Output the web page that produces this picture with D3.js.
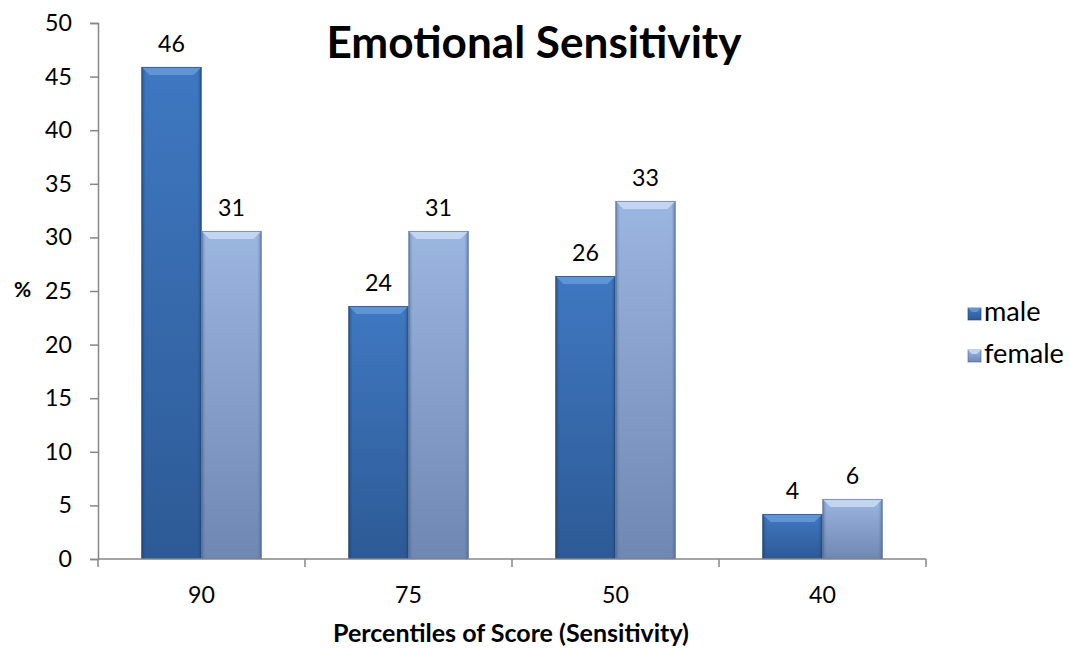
<!DOCTYPE html>
<html>
<head>
  <meta charset="utf-8">
  <title>Emotional Sensitivity</title>
  <style>
    body { margin: 0; background: #fff; }
    svg text { font-family: Lato, "Open Sans", sans-serif; fill: #000; }
    .tick_label { font-size: 24px; }
    .val_label { font-size: 24px; text-anchor: middle; }
    .title { font-size: 44px; font-weight: bold; text-anchor: middle; }
    .axis_title { font-size: 21px; font-weight: bold; }
    .legend_label { font-size: 24px; }
  </style>
</head>
<body>
  <svg id="canvas"></svg>
  <script src="https://cdn.jsdelivr.net/npm/d3@7"></script>
  <script>
    const categories = ["90", "75", "50", "40"];
    const series = ["male", "female"];
    const male = [45.9, 23.6, 26.4, 4.2];
    const female = [30.6, 30.6, 33.4, 5.6];
    const shown_male = [46, 24, 26, 4];
    const shown_female = [31, 31, 33, 6];
    const y_ticks = [0, 5, 10, 15, 20, 25, 30, 35, 40, 45, 50];

    const W = 1070, H = 648;
    const dims = { left: 98, right: 926, top: 23, bottom: 559 };

    const colors = {
      male: { top: "#3f78c1", bottom: "#2d5a96", bevel: "#5f95d6", edge: "#1f406d" },
      female: { top: "#9bb6e1", bottom: "#6f87b3", bevel: "#c2d5f1", edge: "#4f6690" }
    };

    const svg = d3.select("#canvas").attr("width", W).attr("height", H);
    const defs = svg.append("defs");
    series.forEach(s => {
      const g = defs.append("linearGradient").attr("id", "grad_" + s)
        .attr("x1", 0).attr("y1", 0).attr("x2", 0).attr("y2", 1);
      g.append("stop").attr("offset", "0%").attr("stop-color", colors[s].top);
      g.append("stop").attr("offset", "100%").attr("stop-color", colors[s].bottom);
      const e = defs.append("linearGradient").attr("id", "edge_" + s)
        .attr("x1", 0).attr("y1", 0).attr("x2", 1).attr("y2", 0);
      e.append("stop").attr("offset", "0%").attr("stop-color", colors[s].edge).attr("stop-opacity", 0.55);
      e.append("stop").attr("offset", "7%").attr("stop-color", colors[s].edge).attr("stop-opacity", 0);
      e.append("stop").attr("offset", "93%").attr("stop-color", colors[s].edge).attr("stop-opacity", 0);
      e.append("stop").attr("offset", "100%").attr("stop-color", colors[s].edge).attr("stop-opacity", 0.55);
    });

    // scale a text's font so its width matches what the picture shows
    const fit = (sel, target) => {
      const w = sel.node().getBBox().width;
      const fs = parseFloat(getComputedStyle(sel.node()).fontSize);
      return fs * target / w;
    };

    const x = d3.scaleBand().domain(categories).range([dims.left, dims.right])
      .paddingInner(0.42).paddingOuter(0.21);
    const xs = d3.scaleBand().domain(series).range([0, x.bandwidth()]);
    const y = d3.scaleLinear().domain([0, 50]).range([dims.bottom, dims.top]);

    // measure label size on a probe
    const probe = svg.append("text").attr("class", "tick_label").text("90");
    const label_fs = fit(probe, 27);
    probe.remove();

    // axes
    const axis_color = "#868686";
    const yAxis = svg.append("g").attr("transform", "translate(" + dims.left + ",0)")
      .call(d3.axisLeft(y).tickValues(y_ticks).tickSize(8).tickPadding(18));
    yAxis.attr("font-size", null).attr("font-family", null);
    yAxis.select(".domain").attr("stroke", axis_color).attr("stroke-width", 1.5);
    yAxis.selectAll(".tick line").attr("stroke", axis_color).attr("stroke-width", 1.5);
    yAxis.selectAll(".tick text").attr("class", "tick_label").attr("fill", "#000")
      .style("font-size", label_fs + "px");

    const bars = [];
    categories.forEach((c, i) => {
      bars.push({ cat: c, s: "male", v: male[i], label: shown_male[i] });
      bars.push({ cat: c, s: "female", v: female[i], label: shown_female[i] });
    });

    const bar_g = svg.append("g");
    const b = bar_g.selectAll(".bar").data(bars).enter().append("g").attr("class", "bar");
    b.append("rect")
      .attr("x", d => x(d.cat) + xs(d.s))
      .attr("y", d => y(d.v))
      .attr("width", xs.bandwidth())
      .attr("height", d => y(0) - y(d.v))
      .attr("fill", d => "url(#grad_" + d.s + ")");
    b.append("rect")
      .attr("x", d => x(d.cat) + xs(d.s))
      .attr("y", d => y(d.v))
      .attr("width", xs.bandwidth())
      .attr("height", d => y(0) - y(d.v))
      .attr("fill", d => "url(#edge_" + d.s + ")");
    // top bevel
    const bev = 8;
    b.append("path")
      .attr("d", d => {
        const x0 = x(d.cat) + xs(d.s), x1 = x0 + xs.bandwidth(), y0 = y(d.v);
        return "M" + x0 + "," + y0 + "L" + x1 + "," + y0 + "L" + (x1 - bev) + "," + (y0 + bev) +
          "L" + (x0 + bev) + "," + (y0 + bev) + "Z";
      })
      .attr("fill", d => colors[d.s].bevel);
    b.append("rect")
      .attr("x", d => x(d.cat) + xs(d.s) + 0.5)
      .attr("y", d => y(d.v) + 0.5)
      .attr("width", xs.bandwidth() - 1)
      .attr("height", d => y(0) - y(d.v) - 1)
      .attr("fill", "none")
      .attr("stroke", d => colors[d.s].edge)
      .attr("stroke-opacity", 0.6);
    b.append("text")
      .attr("class", "val_label")
      .style("font-size", label_fs + "px")
      .attr("x", d => x(d.cat) + xs(d.s) + xs.bandwidth() / 2)
      .attr("y", d => y(d.v) - 15)
      .text(d => d.label);

    // x axis
    const xl = svg.append("g");
    xl.append("line").attr("x1", dims.left).attr("x2", dims.right)
      .attr("y1", dims.bottom).attr("y2", dims.bottom)
      .attr("stroke", axis_color).attr("stroke-width", 1.5);
    const bounds = categories.map(c => x(c) - x.step() * x.paddingInner() / 2);
    bounds.push(dims.right);
    xl.selectAll(".xtick").data(bounds).enter().append("line")
      .attr("x1", d => d).attr("x2", d => d)
      .attr("y1", dims.bottom).attr("y2", dims.bottom + 8)
      .attr("stroke", axis_color).attr("stroke-width", 1.5);
    xl.selectAll(".xlab").data(categories).enter().append("text")
      .attr("class", "tick_label")
      .style("font-size", label_fs + "px")
      .attr("text-anchor", "middle")
      .attr("x", d => x(d) + x.bandwidth() / 2)
      .attr("y", dims.bottom + 44)
      .text(d => d);

    // titles
    const title = svg.append("text").attr("class", "title").attr("x", 534).attr("y", 58).text("Emotional Sensitivity");
    title.style("font-size", fit(title, 416) + "px");
    const xt = svg.append("text").attr("class", "axis_title").attr("text-anchor", "middle")
      .attr("x", 511).attr("y", 642).text("Percentiles of Score (Sensitivity)");
    xt.style("font-size", fit(xt, 356) + "px");
    svg.append("text").attr("class", "axis_title").attr("x", 14).attr("y", 297).text("%");

    // legend
    const lg = svg.append("g").attr("transform", "translate(968,308)");
    const li = lg.selectAll("g").data(series).enter().append("g")
      .attr("transform", (d, i) => "translate(0," + i * 42 + ")");
    li.append("rect").attr("width", 13).attr("height", 12)
      .attr("fill", d => "url(#grad_" + d + ")")
      .attr("stroke", d => colors[d].edge).attr("stroke-opacity", 0.6);
    li.append("path").attr("d", "M0,0L13,0L9,4L4,4Z").attr("fill", d => colors[d].bevel);
    const lt = li.append("text").attr("class", "legend_label").attr("x", 16).attr("y", 13).text(d => d);
    const leg_fs = fit(lt.filter(d => d == "female"), 80);
    lt.style("font-size", leg_fs + "px");
  </script>
</body>
</html>
